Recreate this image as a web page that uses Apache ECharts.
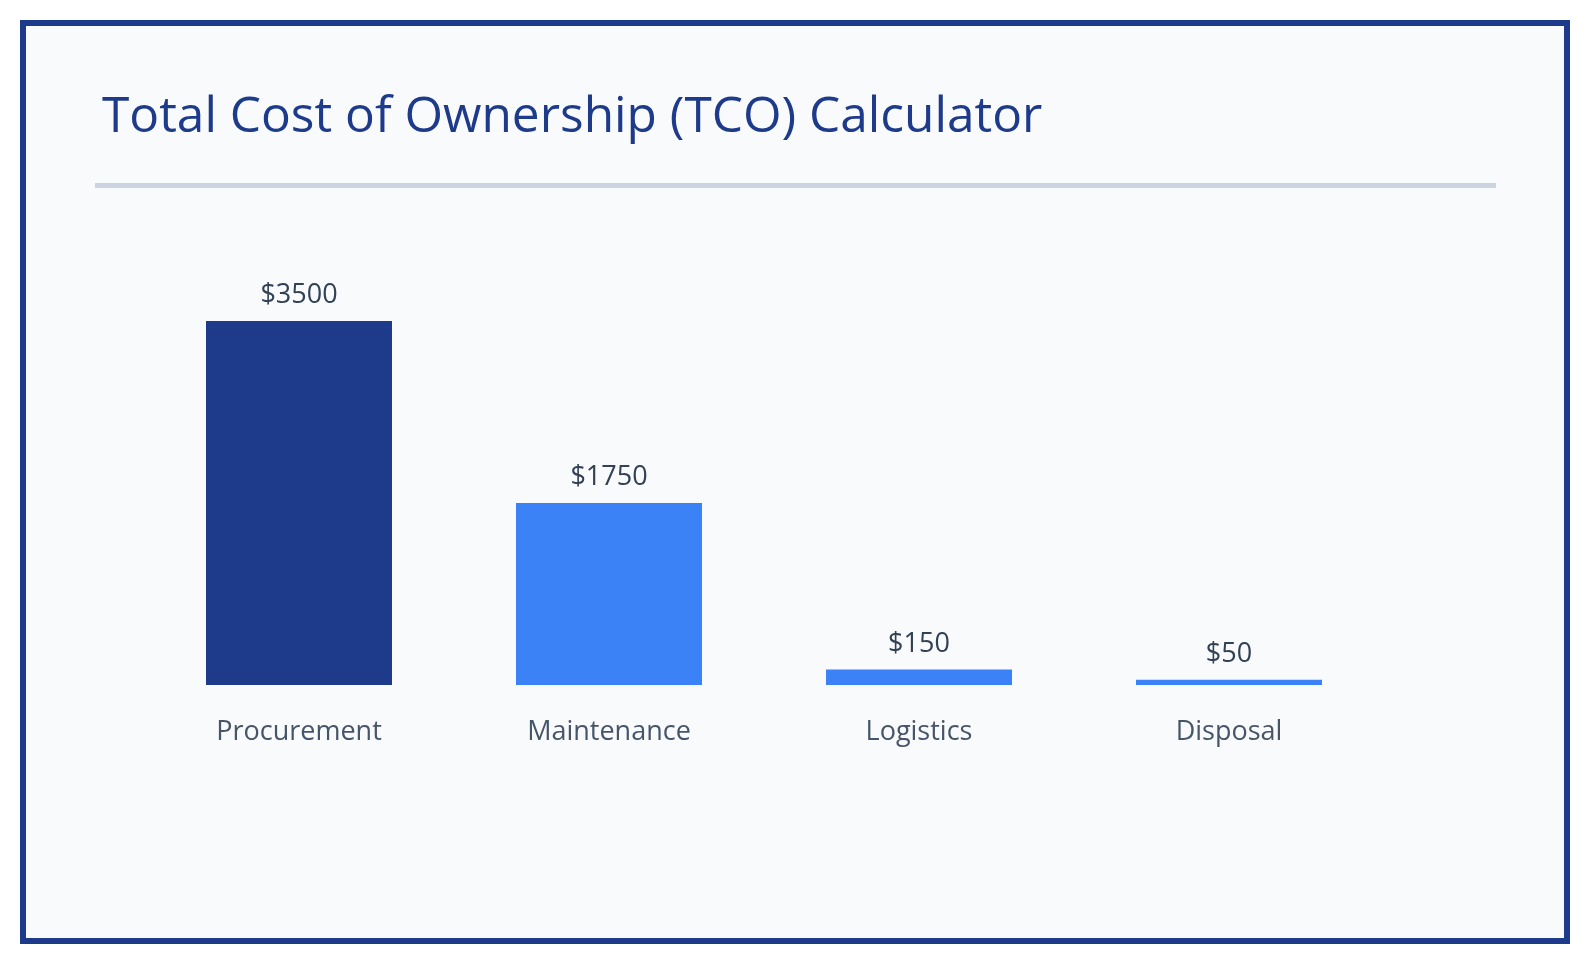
<!DOCTYPE html>
<html>
<head>
<meta charset="utf-8">
<script src="https://cdn.jsdelivr.net/npm/echarts@6/dist/echarts.min.js"></script>
<style>
  html, body { margin: 0; padding: 0; background: #ffffff; width: 1589px; height: 964px; overflow: hidden; }
  #frame { position: absolute; left: 20px; top: 20px; width: 1550px; height: 924px; box-sizing: border-box; border: 6px solid #1e3a8a; background: #f8fafc; }
  #chart { position: absolute; left: 0; top: 0; width: 1589px; height: 964px; }
</style>
</head>
<body>
<div id="frame"></div>
<div id="chart"></div>
<script>
const titleText = 'Total Cost of Ownership (TCO) Calculator';
const categories = ['Procurement', 'Maintenance', 'Logistics', 'Disposal'];
const costValues = [3500, 1750, 150, 50];
const barColors = ['#1e3a8a', '#3b82f6', '#3b82f6', '#3b82f6'];

const FONT = '"Open Sans", "Noto Sans", sans-serif';
const chart = echarts.init(document.getElementById('chart'), null, { renderer: 'canvas' });
chart.setOption({
  backgroundColor: 'transparent',
  animation: false,
  title: {
    text: titleText,
    left: 97,
    top: 88,
    textStyle: { color: '#1e3a8a', fontSize: 49.6, fontWeight: 'normal', fontFamily: FONT }
  },
  graphic: [{
    type: 'rect',
    shape: { x: 95, y: 183, width: 1401, height: 5 },
    style: { fill: '#cbd5e1' },
    silent: true
  }],
  grid: { left: 144, right: 1589 - 1384, top: 269, bottom: 964 - 685, containLabel: false },
  xAxis: {
    type: 'category',
    data: categories,
    axisLine: { show: false },
    axisTick: { show: false },
    axisLabel: { color: '#475569', fontSize: 27, fontFamily: FONT, margin: 34 }
  },
  yAxis: {
    type: 'value',
    min: 0,
    max: 4000,
    show: false,
    splitLine: { show: false }
  },
  series: [{
    type: 'bar',
    data: costValues.map((v, i) => ({ value: v, itemStyle: { color: barColors[i] } })),
    barWidth: '60%',
    label: {
      show: true,
      position: 'top',
      distance: 12,
      formatter: p => '$' + p.value,
      color: '#334155',
      fontSize: 27,
      fontFamily: FONT
    }
  }]
});
</script>
</body>
</html>
